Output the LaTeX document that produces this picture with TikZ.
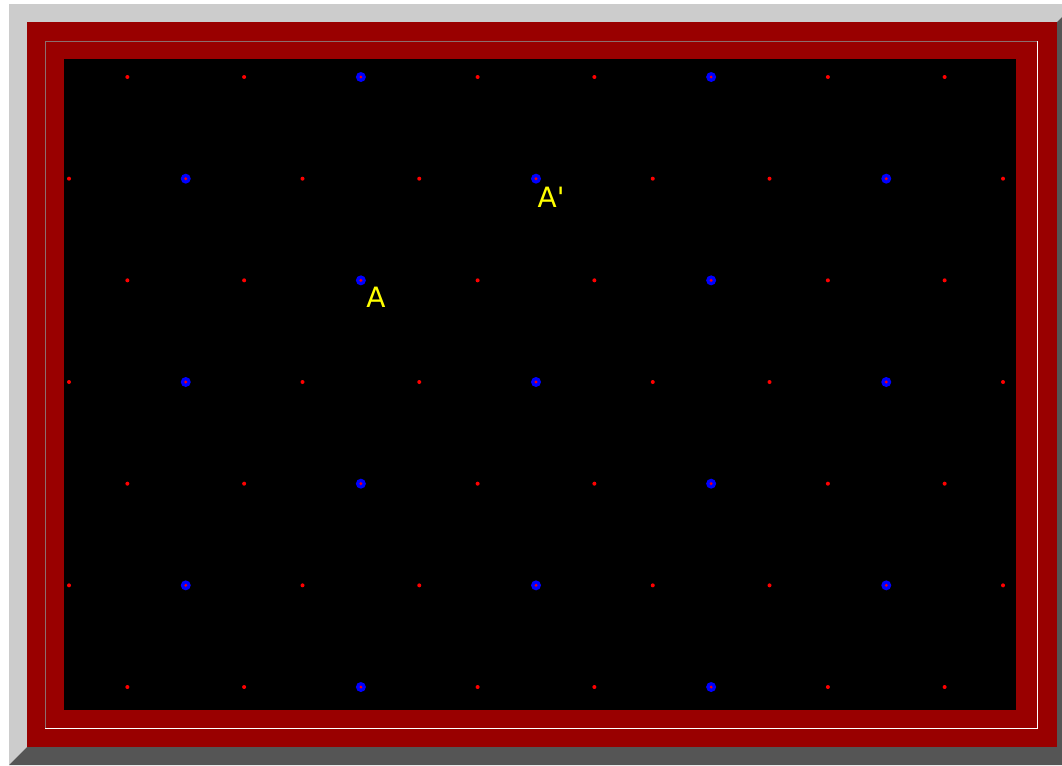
\documentclass[tikz,border=0pt]{standalone}
\usepackage{fontspec}
\newfontfamily\labelfont{DejaVu Sans}
\usetikzlibrary{positioning}
\definecolor{framered}{HTML}{990000}
\definecolor{bevellight}{HTML}{CCCCCC}
\definecolor{beveldark}{HTML}{555555}
\definecolor{edgegray}{HTML}{8C6E6E}
\definecolor{labelyellow}{HTML}{FFFF00}

\begin{document}
\begin{tikzpicture}[
    x=0.75pt, y=-0.75pt, % one unit is one pixel, (0,0) at top left
    site/.style={circle, fill=red, inner sep=0pt, minimum size=3pt},
    bigsite/.style={circle, fill=blue, inner sep=0pt, minimum size=7.5pt,
      path picture={\fill[red] (path picture bounding box.center) circle (1.2pt);}},
    lbl/.style={text=labelyellow, font=\labelfont\fontsize{21}{25}\selectfont,
      inner sep=0pt, anchor=north west}
]
\useasboundingbox (0,0) rectangle (1062,765);
% bevelled outer frame
\fill[bevellight] (9,4) -- (1062,4) -- (1062,17) -- (1057,22) -- (27,22) -- (27,747) -- (9,765) -- cycle;
\fill[beveldark] (9,765) -- (27,747) -- (1057,747) -- (1057,22) -- (1062,17) -- (1062,765) -- cycle;
\fill[framered] (27,22) rectangle (1057,747);
% sunken line inside the red frame
\draw[edgegray, line width=0.75pt] (45,728) -- (45,41) -- (1037,41);
\draw[white, line width=0.75pt] (1037,41) -- (1037,728) -- (45,728);
\fill[black] (64,59) rectangle (1016,710);
% hexagonal lattice, every third site in a row is marked
\def\dx{58.375}
\def\dy{101.667}
\foreach \j in {0,...,6} {
    \foreach \k in {0,...,16} {
        \pgfmathtruncatemacro{\onsite}{mod(\k+\j,2)}
        \pgfmathtruncatemacro{\isbig}{mod(\k+3*\j,6)==5}
        \ifnum\onsite=1
            \ifnum\isbig=1
                \node[bigsite] (s-\k-\j) at (69+\k*\dx, 77+\j*\dy) {};
            \else
                \node[site] (s-\k-\j) at (69+\k*\dx, 77+\j*\dy) {};
            \fi
        \fi
    }
}
\node[lbl] (lblA) at ([xshift=4pt, yshift=-4.5pt]s-5-2.center) {A};
\node[lbl] (lblAp) at ([xshift=1pt, yshift=-6pt]s-8-1.center) {A\textquotesingle};
\end{tikzpicture}
\end{document}
